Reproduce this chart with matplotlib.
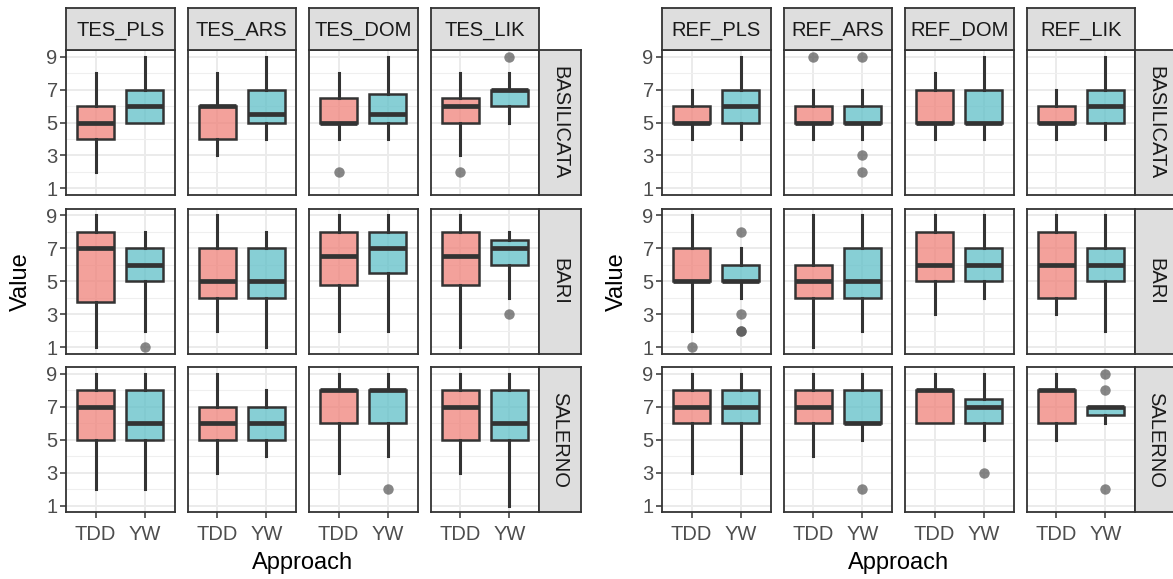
import matplotlib
matplotlib.use('Agg')
import matplotlib.pyplot as plt

plt.rcParams['font.family'] = ['Liberation Sans', 'DejaVu Sans']

# facets
metrics = ['PLS', 'ARS', 'DOM', 'LIK']
cities = ['BASILICATA', 'BARI', 'SALERNO']
approaches = ['TDD', 'YW']

# box stats: (lower whisker, q1, median, q3, upper whisker)
# index [city][metric]
tes_tdd = [
    [(2, 4, 5, 6, 8), (3, 4, 6, 6, 8), (4, 5, 5, 6.5, 8), (3, 5, 6, 6.5, 8)],
    [(1, 3.75, 7, 8, 9), (2, 4, 5, 7, 9), (2, 4.75, 6.5, 8, 9), (1, 4.75, 6.5, 8, 9)],
    [(2, 5, 7, 8, 9), (3, 5, 6, 7, 9), (3, 6, 8, 8, 9), (3, 5, 7, 8, 9)],
]
tes_yw = [
    [(5, 5, 6, 7, 9), (4, 5, 5.5, 7, 9), (4, 5, 5.5, 6.75, 9), (5, 6, 7, 7, 8)],
    [(2, 5, 6, 7, 8), (1, 4, 5, 7, 8), (2, 5.5, 7, 8, 9), (4, 6, 7, 7.5, 8)],
    [(2, 5, 6, 8, 9), (4, 5, 6, 7, 8), (4, 6, 8, 8, 9), (1, 5, 6, 8, 9)],
]
ref_tdd = [
    [(4, 5, 5, 6, 7), (4, 5, 5, 6, 7), (4, 5, 5, 7, 8), (4, 5, 5, 6, 7)],
    [(2, 5, 5, 7, 9), (1, 4, 5, 6, 9), (3, 5, 6, 8, 9), (3, 4, 6, 8, 9)],
    [(3, 6, 7, 8, 9), (4, 6, 7, 8, 9), (6, 6, 8, 8, 9), (5, 6, 8, 8, 9)],
]
ref_yw = [
    [(4, 5, 6, 7, 9), (4, 5, 5, 6, 7), (4, 5, 5, 7, 9), (4, 5, 6, 7, 9)],
    [(4, 5, 5, 6, 7), (2, 4, 5, 7, 9), (4, 5, 6, 7, 9), (2, 5, 6, 7, 9)],
    [(3, 6, 7, 8, 9), (5, 6, 6, 8, 9), (5, 6, 7, 7.5, 9), (6, 6.5, 7, 7, 7)],
]

# outliers
tes_tdd_out = [[[], [], [2], [2]], [[], [], [], []], [[], [], [], []]]
tes_yw_out = [[[], [], [], [9]], [[1], [], [], [3]], [[], [], [2], []]]
ref_tdd_out = [[[], [9], [], []], [[1], [], [], []], [[], [], [], []]]
ref_yw_out = [[[], [9, 3, 2], [], []], [[8, 3, 2, 2], [], [], []],
              [[], [2], [3], [9, 8, 2]]]

groups = [
    ('TES', tes_tdd, tes_yw, tes_tdd_out, tes_yw_out, 66),
    ('REF', ref_tdd, ref_yw, ref_tdd_out, ref_yw_out, 662),
]

W, H = 1173, 579
fig = plt.figure(figsize=(W / 100, H / 100), dpi=100)

pw, ph = 108.5, 145
col_step, row_step = 121.5, 158.7
top0 = 50
strip = 42
fills = ['#F0827A', '#5FBFC8']
edge = '#333333'


def px_axes(l, t, w, h):
    return fig.add_axes([l / W, 1 - (t + h) / H, w / W, h / H])


for gname, s_tdd, s_yw, o_tdd, o_yw, left0 in groups:
    for r, city in enumerate(cities):
        for c, m in enumerate(metrics):
            l = left0 + c * col_step
            t = top0 + r * row_step
            ax = px_axes(l, t, pw, ph)
            stats = []
            for box, out in ((s_tdd[r][c], o_tdd[r][c]), (s_yw[r][c], o_yw[r][c])):
                lo, q1, med, q3, hi = box
                stats.append(dict(whislo=lo, q1=q1, med=med, q3=q3, whishi=hi, fliers=out))
            bp = ax.bxp(stats, positions=[1, 2], widths=0.75, patch_artist=True,
                        showcaps=False,
                        boxprops=dict(edgecolor=edge, linewidth=1.8),
                        medianprops=dict(color=edge, linewidth=3.4, solid_capstyle='butt'),
                        whiskerprops=dict(color=edge, linewidth=2.2),
                        flierprops=dict(marker='o', markerfacecolor='#555555',
                                        markeredgecolor='none', markersize=7.5, alpha=0.7))
            for patch, fc in zip(bp['boxes'], fills):
                patch.set_facecolor(matplotlib.colors.to_rgba(fc, 0.75))
            ax.set_xlim(0.4, 2.6)
            ax.set_ylim(0.6, 9.4)
            ax.set_yticks([1, 3, 5, 7, 9])
            ax.set_yticks([2, 4, 6, 8], minor=True)
            ax.set_xticks([1, 2])
            ax.set_xticklabels(approaches)
            ax.set_axisbelow(True)
            ax.grid(True, which='major', color='#EBEBEB', linewidth=1.4)
            ax.grid(True, which='minor', axis='y', color='#EFEFEF', linewidth=0.8)
            for sp in ax.spines.values():
                sp.set_color(edge)
                sp.set_linewidth(1.3)
            ax.tick_params(which='minor', length=0)
            ax.tick_params(which='major', length=4, width=1.1, color=edge,
                           labelcolor='#4D4D4D', labelsize=14.5, pad=2)
            ax.tick_params(axis='x', pad=5)
            if c != 0:
                ax.tick_params(axis='y', which='major', left=False, labelleft=False)
            if r != len(cities) - 1:
                ax.tick_params(axis='x', which='major', bottom=False, labelbottom=False)

            # top strip
            if r == 0:
                sa = px_axes(l, top0 - strip, pw, strip)
                sa.set_facecolor('#DEDEDE')
                sa.set_xticks([])
                sa.set_yticks([])
                for sp in sa.spines.values():
                    sp.set_color(edge)
                    sp.set_linewidth(1.3)
                sa.text(0.5, 0.47, gname + '_' + m, ha='center', va='center',
                        fontsize=14.5, color='#1A1A1A', transform=sa.transAxes)
            # right strip
            if c == len(metrics) - 1:
                sa = px_axes(l + pw, t, strip, ph)
                sa.set_facecolor('#DEDEDE')
                sa.set_xticks([])
                sa.set_yticks([])
                for sp in sa.spines.values():
                    sp.set_color(edge)
                    sp.set_linewidth(1.3)
                sa.text(0.5, 0.5, city, ha='center', va='center', rotation=-90,
                        fontsize=14.5, color='#1A1A1A', transform=sa.transAxes)

    # axis titles
    grid_mid = left0 + (3 * col_step + pw) / 2
    fig.text(grid_mid / W, 1 - 563 / H, 'Approach', ha='center', va='center', fontsize=17)
    fig.text((left0 - 45) / W, 1 - (top0 + (2 * row_step + ph) / 2) / H, 'Value',
             ha='center', va='center', rotation=90, fontsize=17)

fig.savefig('out.png', dpi=100)
